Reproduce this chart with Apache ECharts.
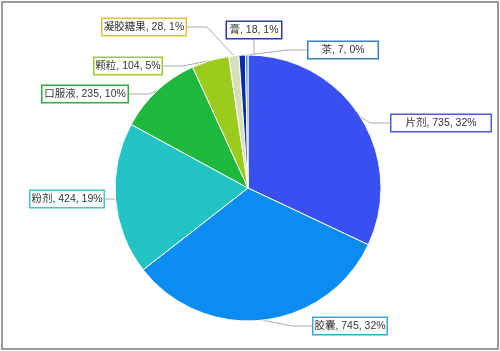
<!DOCTYPE html>
<html>
<head>
<meta charset="utf-8">
<script src="https://cdn.jsdelivr.net/npm/echarts@6/dist/echarts.min.js"></script>
<style>
  html, body { margin: 0; padding: 0; background: #fff; }
  #chart { width: 500px; height: 351px; }
</style>
</head>
<body>
<div id="chart"></div>
<script>
var chartDom = document.getElementById('chart');
var myChart = echarts.init(chartDom);

// chart data
var names = ['片剂', '胶囊', '粉剂', '口服液', '颗粒', '凝胶糖果', '膏', '茶'];
var values = [735, 745, 424, 235, 104, 28, 18, 7];

var sliceColors = ['#3a4ff0', '#0a8cf0', '#22c3c3', '#1db83c', '#9bcb1c', '#d6e0b8', '#0b2aa8', '#3b8dd2'];
var labelBorders = ['#4a5ad8', '#3aa8d8', '#40c8c8', '#30b040', '#9ccc30', '#e0c040', '#2a3ca8', '#3a80c0'];
// label box centres and widths (layout only)
var labelSpots = [[441, 123], [350, 326], [67, 199], [85, 94], [128, 66], [144, 27], [254, 30], [343, 50]];
var labelWidths = [95, 69, 69, 81, 63, 79, 50, 65];

var pieData = [];
for (var i = 0; i < names.length; i++) {
  pieData.push({
    name: names[i],
    value: values[i],
    itemStyle: { color: sliceColors[i] },
    label: {
      borderColor: labelBorders[i],
      width: labelWidths[i]
    }
  });
}

var option = {
  backgroundColor: '#fff',
  graphic: [{
    type: 'rect',
    shape: { x: 2, y: 2, width: 496, height: 347 },
    style: { fill: 'none', stroke: '#9a9a9a', lineWidth: 2 },
    silent: true
  }],
  series: [{
    type: 'pie',
    center: [248, 188],
    radius: 133,
    startAngle: 90,
    clockwise: true,
    percentPrecision: 0,
    data: pieData,
    itemStyle: { borderColor: '#fff', borderWidth: 1 },
    label: {
      formatter: '{b}, {c}, {d}%',
      fontFamily: "'Liberation Sans', 'Noto Sans CJK SC', sans-serif",
      fontSize: 10.5,
      lineHeight: 13,
      color: '#333',
      align: 'center',
      backgroundColor: '#fff',
      borderWidth: 1.5,
      padding: [2, 2, 1, 2],
      overflow: 'none'
    },
    labelLine: {
      length: 15,
      length2: 20,
      lineStyle: { color: '#aaa', width: 1 }
    },
    labelLayout: function (params) {
      var p = labelSpots[params.dataIndex];
      return { x: p[0], y: p[1], align: 'center', verticalAlign: 'middle' };
    }
  }]
};

myChart.setOption(option);
</script>
</body>
</html>
